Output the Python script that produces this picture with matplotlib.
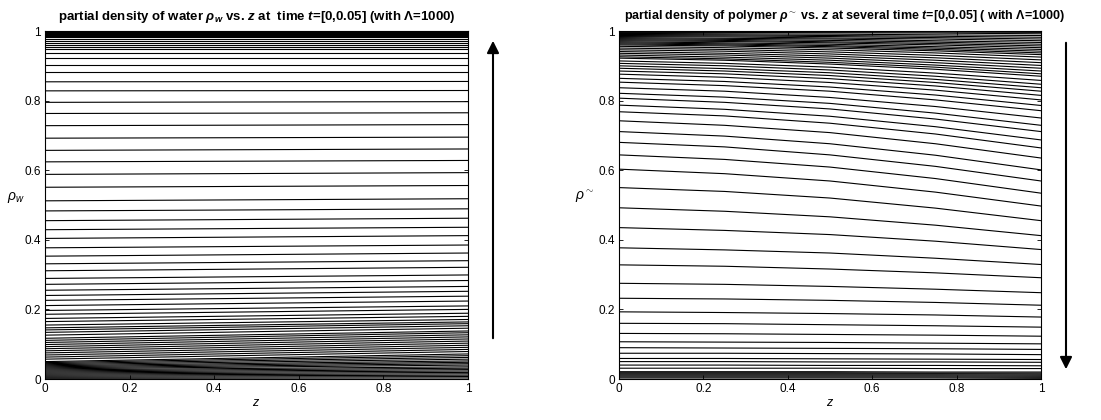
import numpy as np
import matplotlib.pyplot as plt

plt.rcParams['font.family'] = ['Liberation Sans', 'DejaVu Sans']
plt.rcParams['mathtext.fontset'] = 'custom'
plt.rcParams['mathtext.rm'] = 'Liberation Sans'
plt.rcParams['mathtext.it'] = 'Liberation Sans:italic'
plt.rcParams['mathtext.bf'] = 'Liberation Sans:bold'
plt.rcParams['mathtext.bfit'] = 'Liberation Sans:bold:italic'

# ----------------------------
# Data
# ----------------------------
# left panel: water density, each curve given at z=0 and z=1
z_water = [0.0, 1.0]
rho_w_z0 = [1.000, 0.998, 0.996, 0.994, 0.992, 0.990, 0.988, 0.986, 0.983, 0.977,
            0.971, 0.966, 0.960, 0.954, 0.948, 0.937, 0.921, 0.902, 0.881, 0.854,
            0.828, 0.795, 0.763, 0.728, 0.692, 0.657, 0.624, 0.588, 0.551, 0.512,
            0.483, 0.455, 0.429, 0.404, 0.377, 0.353, 0.331, 0.311, 0.289, 0.272,
            0.255, 0.240, 0.226, 0.211, 0.197, 0.186, 0.174, 0.165, 0.155, 0.147,
            0.141, 0.134, 0.126, 0.117, 0.111, 0.105, 0.099, 0.093, 0.087, 0.081,
            0.075, 0.069, 0.063, 0.057, 0.050, 0.047, 0.044, 0.041, 0.038, 0.035,
            0.032, 0.029, 0.026, 0.023, 0.020, 0.017, 0.014, 0.011, 0.008, 0.005,
            0.002, 0.000]
rho_w_z1 = [1.000, 0.998, 0.996, 0.994, 0.992, 0.990, 0.988, 0.986, 0.983, 0.977,
            0.971, 0.966, 0.960, 0.954, 0.948, 0.937, 0.921, 0.902, 0.881, 0.855,
            0.829, 0.797, 0.765, 0.731, 0.695, 0.661, 0.628, 0.593, 0.556, 0.518,
            0.489, 0.462, 0.436, 0.412, 0.385, 0.362, 0.340, 0.321, 0.299, 0.283,
            0.266, 0.252, 0.238, 0.224, 0.210, 0.200, 0.189, 0.180, 0.171, 0.164,
            0.159, 0.153, 0.146, 0.138, 0.133, 0.127, 0.121, 0.115, 0.109, 0.103,
            0.097, 0.091, 0.085, 0.079, 0.072, 0.067, 0.062, 0.057, 0.052, 0.048,
            0.044, 0.040, 0.035, 0.031, 0.027, 0.023, 0.019, 0.015, 0.011, 0.007,
            0.003, 0.000]

# right panel: polymer density, each curve given at z = 0, .25, .5, .75, 1
z_poly = [0.0, 0.25, 0.5, 0.75, 1.0]
rho_p_z000 = [1.000, 0.998, 0.996, 0.993, 0.990, 0.987, 0.984, 0.981, 0.978, 0.975,
              0.972, 0.969, 0.966, 0.963, 0.960, 0.956, 0.951, 0.946, 0.941, 0.936,
              0.931, 0.926, 0.922, 0.914, 0.907, 0.900, 0.893, 0.885, 0.876, 0.864,
              0.853, 0.837, 0.821, 0.807, 0.787, 0.768, 0.742, 0.711, 0.680, 0.644,
              0.603, 0.550, 0.492, 0.435, 0.377, 0.328, 0.275, 0.232, 0.193, 0.160,
              0.131, 0.107, 0.090, 0.074, 0.059, 0.050, 0.040, 0.031, 0.021, 0.018,
              0.015, 0.012, 0.009, 0.006, 0.003, 0.000]
rho_p_z025 = [1.000, 0.998, 0.996, 0.992, 0.989, 0.986, 0.983, 0.979, 0.976, 0.973,
              0.970, 0.966, 0.963, 0.960, 0.957, 0.952, 0.947, 0.942, 0.936, 0.931,
              0.925, 0.920, 0.916, 0.907, 0.900, 0.892, 0.885, 0.877, 0.867, 0.855,
              0.843, 0.827, 0.810, 0.795, 0.775, 0.756, 0.729, 0.698, 0.667, 0.631,
              0.590, 0.539, 0.482, 0.427, 0.371, 0.324, 0.272, 0.230, 0.191, 0.159,
              0.130, 0.106, 0.089, 0.074, 0.059, 0.050, 0.040, 0.031, 0.021, 0.018,
              0.015, 0.012, 0.009, 0.006, 0.003, 0.000]
rho_p_z050 = [1.000, 0.997, 0.995, 0.991, 0.987, 0.984, 0.980, 0.977, 0.973, 0.969,
              0.966, 0.962, 0.958, 0.955, 0.951, 0.946, 0.940, 0.934, 0.928, 0.922,
              0.916, 0.910, 0.905, 0.896, 0.888, 0.880, 0.872, 0.863, 0.852, 0.839,
              0.827, 0.809, 0.792, 0.776, 0.755, 0.735, 0.708, 0.676, 0.644, 0.609,
              0.569, 0.520, 0.466, 0.415, 0.362, 0.316, 0.266, 0.226, 0.188, 0.156,
              0.128, 0.105, 0.088, 0.073, 0.058, 0.049, 0.039, 0.031, 0.021, 0.018,
              0.015, 0.012, 0.009, 0.006, 0.003, 0.000]
rho_p_z075 = [1.000, 0.997, 0.994, 0.989, 0.985, 0.981, 0.977, 0.972, 0.968, 0.964,
              0.960, 0.955, 0.951, 0.947, 0.943, 0.937, 0.930, 0.923, 0.916, 0.909,
              0.902, 0.896, 0.890, 0.879, 0.870, 0.861, 0.852, 0.842, 0.830, 0.816,
              0.802, 0.783, 0.764, 0.747, 0.725, 0.704, 0.676, 0.643, 0.611, 0.576,
              0.537, 0.491, 0.442, 0.396, 0.347, 0.305, 0.258, 0.220, 0.184, 0.153,
              0.126, 0.103, 0.087, 0.072, 0.057, 0.049, 0.039, 0.030, 0.020, 0.017,
              0.015, 0.012, 0.009, 0.006, 0.003, 0.000]
rho_p_z100 = [1.000, 0.996, 0.992, 0.987, 0.982, 0.977, 0.972, 0.967, 0.962, 0.957,
              0.952, 0.947, 0.942, 0.937, 0.932, 0.925, 0.917, 0.909, 0.901, 0.893,
              0.885, 0.877, 0.870, 0.858, 0.847, 0.837, 0.827, 0.815, 0.802, 0.786,
              0.771, 0.750, 0.729, 0.711, 0.687, 0.664, 0.635, 0.601, 0.569, 0.534,
              0.497, 0.455, 0.412, 0.372, 0.329, 0.291, 0.248, 0.212, 0.178, 0.149,
              0.123, 0.101, 0.085, 0.070, 0.056, 0.048, 0.038, 0.030, 0.020, 0.017,
              0.014, 0.011, 0.008, 0.005, 0.002, 0.000]

ticks = [0, 0.2, 0.4, 0.6, 0.8, 1]
tick_labels = ["0", "0.2", "0.4", "0.6", "0.8", "1"]

# ----------------------------
# Figure
# ----------------------------
W, H = 1101, 420
fig = plt.figure(figsize=(W / 100, H / 100), dpi=100)

def px_axes(x0, x1, y_top, y_bot):
    return fig.add_axes([x0 / W, (H - y_bot) / H, (x1 - x0) / W, (y_bot - y_top) / H])

def style_axes(ax):
    ax.set_xlim(0, 1)
    ax.set_ylim(0, 1)
    ax.set_xticks(ticks)
    ax.set_xticklabels(tick_labels)
    ax.set_yticks(ticks)
    ax.set_yticklabels(tick_labels)
    ax.tick_params(direction="in", length=3, width=0.6, labelsize=8.5,
                   top=True, right=True, pad=3)
    for sp in ax.spines.values():
        sp.set_linewidth(0.8)
    ax.set_xlabel("$z$", fontsize=9, labelpad=1)

ax1 = px_axes(45, 468, 31, 379)
ax1.plot(z_water, np.vstack([rho_w_z0, rho_w_z1]), color="black", lw=0.8)
style_axes(ax1)
ax1.set_ylabel(r"$\rho_w$", fontsize=10, rotation=0, labelpad=6)
ax1.set_title(r"partial density of water $\mathbfit{\rho_w}$ vs. $\mathbfit{z}$ at  time "
              r"$\mathbfit{t}$=[0,0.05] (with $\mathbf{\Lambda}$=1000)",
              fontsize=9.5, fontweight="bold", pad=8)

ax2 = px_axes(619, 1041, 31, 379)
ax2.plot(z_poly, np.vstack([rho_p_z000, rho_p_z025, rho_p_z050, rho_p_z075, rho_p_z100]),
         color="black", lw=0.8)
style_axes(ax2)
ax2.set_ylabel(r"$\rho^{\sim}$", fontsize=10, rotation=0, labelpad=10)
ax2.set_title(r"partial density of polymer $\mathbfit{\rho}^{\sim}$ vs. $\mathbfit{z}$ at several time "
              r"$\mathbfit{t}$=[0,0.05] ( with $\mathbf{\Lambda}$=1000)",
              fontsize=9, fontweight="bold", pad=9, x=0.535)

# time direction arrows outside the axes
fig.add_artist(plt.matplotlib.patches.FancyArrowPatch(
    (493 / W, 1 - 341 / H), (493 / W, 1 - 38 / H), transform=fig.transFigure,
    arrowstyle="-|>", mutation_scale=18, lw=1.5, color="black"))
fig.add_artist(plt.matplotlib.patches.FancyArrowPatch(
    (1066 / W, 1 - 40 / H), (1066 / W, 1 - 372 / H), transform=fig.transFigure,
    arrowstyle="-|>", mutation_scale=18, lw=1.5, color="black"))

fig.savefig("out.png", dpi=100)
